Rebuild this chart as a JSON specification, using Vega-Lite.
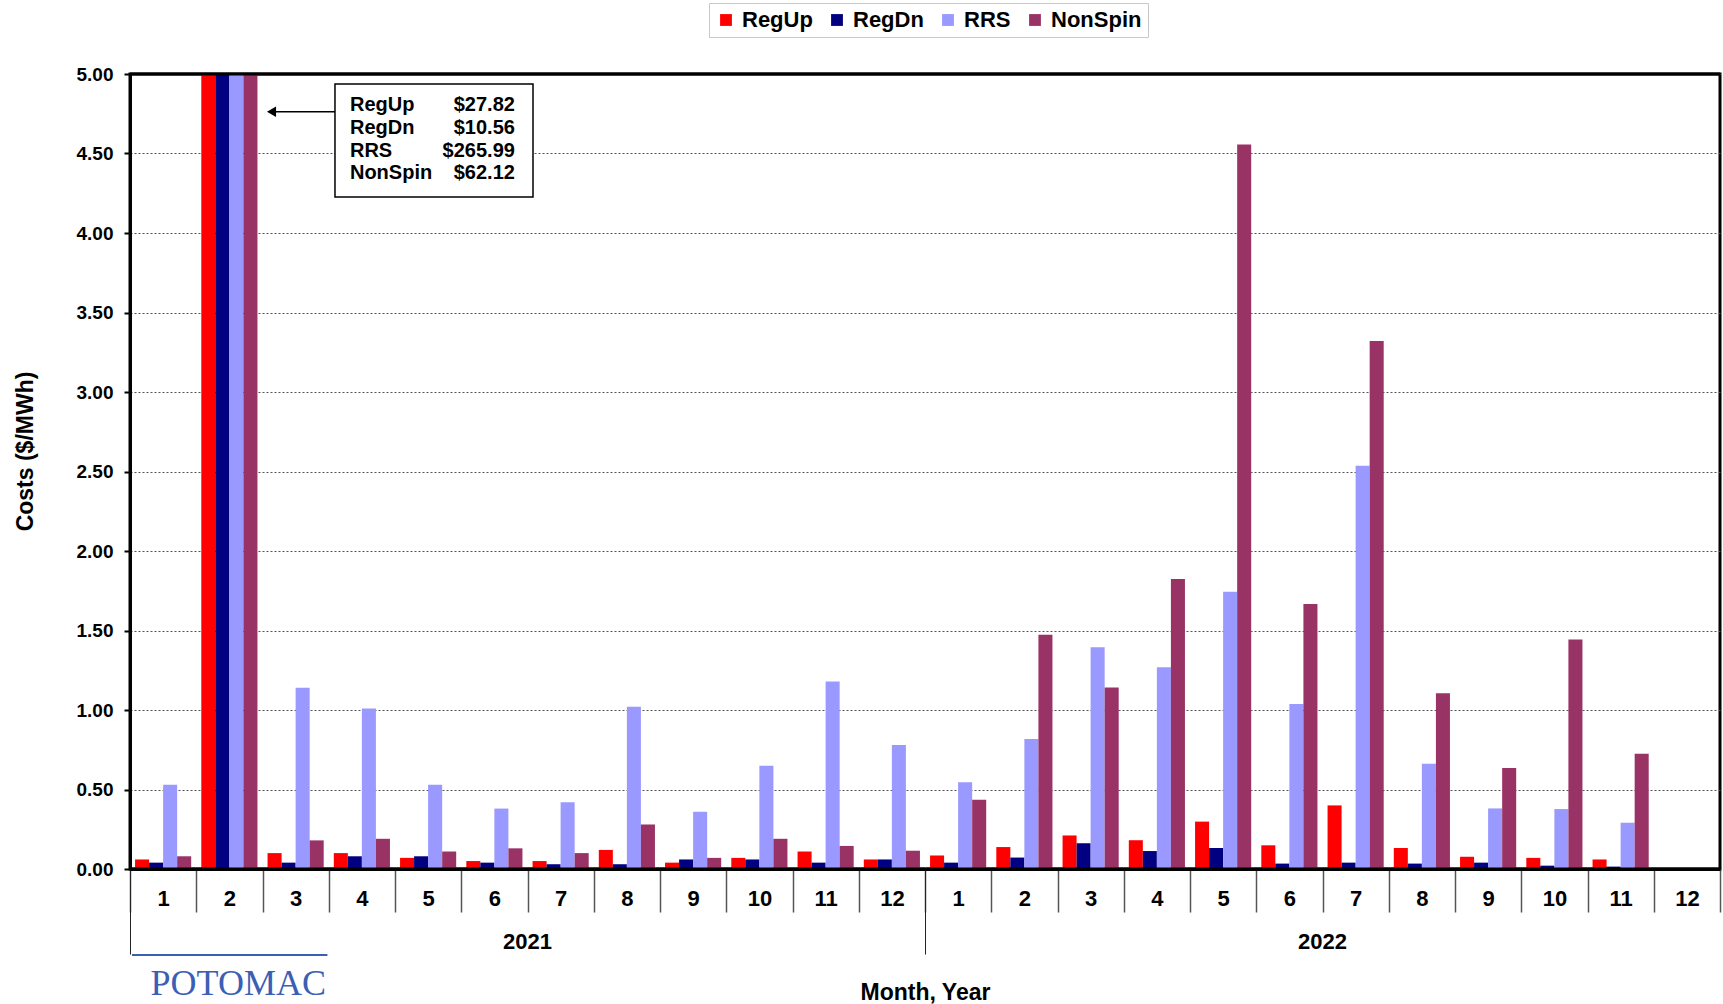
{
  "$schema": "https://vega.github.io/schema/vega-lite/v6.json",
  "width": 1590,
  "height": 795,
  "autosize": {"type": "none"},
  "padding": {"left": 130, "top": 74, "right": 3, "bottom": 135},
  "background": "white",
  "config": {
    "font": "Liberation Sans",
    "view": {"stroke": "black", "strokeWidth": 3},
    "axis": {"labelFontWeight": "bold", "titleFontWeight": "bold", "labelColor": "black", "titleColor": "black"}
  },
  "datasets": {
    "costs": [
      {"period": "2021-01", "series": "RegUp", "cost": 0.06}, {"period": "2021-01", "series": "RegDn", "cost": 0.04}, {"period": "2021-01", "series": "RRS", "cost": 0.53}, {"period": "2021-01", "series": "NonSpin", "cost": 0.08},
      {"period": "2021-02", "series": "RegUp", "cost": 27.82}, {"period": "2021-02", "series": "RegDn", "cost": 10.56}, {"period": "2021-02", "series": "RRS", "cost": 265.99}, {"period": "2021-02", "series": "NonSpin", "cost": 62.12},
      {"period": "2021-03", "series": "RegUp", "cost": 0.10}, {"period": "2021-03", "series": "RegDn", "cost": 0.04}, {"period": "2021-03", "series": "RRS", "cost": 1.14}, {"period": "2021-03", "series": "NonSpin", "cost": 0.18},
      {"period": "2021-04", "series": "RegUp", "cost": 0.10}, {"period": "2021-04", "series": "RegDn", "cost": 0.08}, {"period": "2021-04", "series": "RRS", "cost": 1.01}, {"period": "2021-04", "series": "NonSpin", "cost": 0.19},
      {"period": "2021-05", "series": "RegUp", "cost": 0.07}, {"period": "2021-05", "series": "RegDn", "cost": 0.08}, {"period": "2021-05", "series": "RRS", "cost": 0.53}, {"period": "2021-05", "series": "NonSpin", "cost": 0.11},
      {"period": "2021-06", "series": "RegUp", "cost": 0.05}, {"period": "2021-06", "series": "RegDn", "cost": 0.04}, {"period": "2021-06", "series": "RRS", "cost": 0.38}, {"period": "2021-06", "series": "NonSpin", "cost": 0.13},
      {"period": "2021-07", "series": "RegUp", "cost": 0.05}, {"period": "2021-07", "series": "RegDn", "cost": 0.03}, {"period": "2021-07", "series": "RRS", "cost": 0.42}, {"period": "2021-07", "series": "NonSpin", "cost": 0.10},
      {"period": "2021-08", "series": "RegUp", "cost": 0.12}, {"period": "2021-08", "series": "RegDn", "cost": 0.03}, {"period": "2021-08", "series": "RRS", "cost": 1.02}, {"period": "2021-08", "series": "NonSpin", "cost": 0.28},
      {"period": "2021-09", "series": "RegUp", "cost": 0.04}, {"period": "2021-09", "series": "RegDn", "cost": 0.06}, {"period": "2021-09", "series": "RRS", "cost": 0.36}, {"period": "2021-09", "series": "NonSpin", "cost": 0.07},
      {"period": "2021-10", "series": "RegUp", "cost": 0.07}, {"period": "2021-10", "series": "RegDn", "cost": 0.06}, {"period": "2021-10", "series": "RRS", "cost": 0.65}, {"period": "2021-10", "series": "NonSpin", "cost": 0.19},
      {"period": "2021-11", "series": "RegUp", "cost": 0.11}, {"period": "2021-11", "series": "RegDn", "cost": 0.04}, {"period": "2021-11", "series": "RRS", "cost": 1.18}, {"period": "2021-11", "series": "NonSpin", "cost": 0.145},
      {"period": "2021-12", "series": "RegUp", "cost": 0.06}, {"period": "2021-12", "series": "RegDn", "cost": 0.06}, {"period": "2021-12", "series": "RRS", "cost": 0.78}, {"period": "2021-12", "series": "NonSpin", "cost": 0.115},
      {"period": "2022-01", "series": "RegUp", "cost": 0.085}, {"period": "2022-01", "series": "RegDn", "cost": 0.04}, {"period": "2022-01", "series": "RRS", "cost": 0.545}, {"period": "2022-01", "series": "NonSpin", "cost": 0.436},
      {"period": "2022-02", "series": "RegUp", "cost": 0.138}, {"period": "2022-02", "series": "RegDn", "cost": 0.072}, {"period": "2022-02", "series": "RRS", "cost": 0.817}, {"period": "2022-02", "series": "NonSpin", "cost": 1.473},
      {"period": "2022-03", "series": "RegUp", "cost": 0.211}, {"period": "2022-03", "series": "RegDn", "cost": 0.162}, {"period": "2022-03", "series": "RRS", "cost": 1.395}, {"period": "2022-03", "series": "NonSpin", "cost": 1.141},
      {"period": "2022-04", "series": "RegUp", "cost": 0.181}, {"period": "2022-04", "series": "RegDn", "cost": 0.113}, {"period": "2022-04", "series": "RRS", "cost": 1.269}, {"period": "2022-04", "series": "NonSpin", "cost": 1.824},
      {"period": "2022-05", "series": "RegUp", "cost": 0.298}, {"period": "2022-05", "series": "RegDn", "cost": 0.132}, {"period": "2022-05", "series": "RRS", "cost": 1.744}, {"period": "2022-05", "series": "NonSpin", "cost": 4.557},
      {"period": "2022-06", "series": "RegUp", "cost": 0.149}, {"period": "2022-06", "series": "RegDn", "cost": 0.034}, {"period": "2022-06", "series": "RRS", "cost": 1.038}, {"period": "2022-06", "series": "NonSpin", "cost": 1.666},
      {"period": "2022-07", "series": "RegUp", "cost": 0.40}, {"period": "2022-07", "series": "RegDn", "cost": 0.04}, {"period": "2022-07", "series": "RRS", "cost": 2.536}, {"period": "2022-07", "series": "NonSpin", "cost": 3.321},
      {"period": "2022-08", "series": "RegUp", "cost": 0.132}, {"period": "2022-08", "series": "RegDn", "cost": 0.034}, {"period": "2022-08", "series": "RRS", "cost": 0.662}, {"period": "2022-08", "series": "NonSpin", "cost": 1.105},
      {"period": "2022-09", "series": "RegUp", "cost": 0.077}, {"period": "2022-09", "series": "RegDn", "cost": 0.04}, {"period": "2022-09", "series": "RRS", "cost": 0.381}, {"period": "2022-09", "series": "NonSpin", "cost": 0.635},
      {"period": "2022-10", "series": "RegUp", "cost": 0.07}, {"period": "2022-10", "series": "RegDn", "cost": 0.021}, {"period": "2022-10", "series": "RRS", "cost": 0.377}, {"period": "2022-10", "series": "NonSpin", "cost": 1.443},
      {"period": "2022-11", "series": "RegUp", "cost": 0.06}, {"period": "2022-11", "series": "RegDn", "cost": 0.015}, {"period": "2022-11", "series": "RRS", "cost": 0.291}, {"period": "2022-11", "series": "NonSpin", "cost": 0.725}
    ]
  },
  "layer": [
    {
      "data": {"name": "costs"},
      "mark": {"type": "bar", "clip": true},
      "encoding": {
        "x": {
          "field": "period", "type": "nominal",
          "scale": {"type": "band", "paddingInner": 0, "paddingOuter": 0,
            "domain": ["2021-01","2021-02","2021-03","2021-04","2021-05","2021-06","2021-07","2021-08","2021-09","2021-10","2021-11","2021-12","2022-01","2022-02","2022-03","2022-04","2022-05","2022-06","2022-07","2022-08","2022-09","2022-10","2022-11","2022-12"]},
          "axis": {"orient": "bottom", "title": null, "grid": false,
            "labelExpr": "toNumber(split(datum.value,'-')[1])",
            "labelAngle": 0, "labelFontSize": 22, "labelBaseline": "middle", "labelPadding": -14,
            "tickBand": "extent", "tickSize": 43, "tickColor": "#555", "tickWidth": 1.5,
            "domainColor": "black", "domainWidth": 3}
        },
        "xOffset": {"field": "series", "type": "nominal",
          "scale": {"domain": ["RegUp", "RegDn", "RRS", "NonSpin"], "paddingInner": 0, "paddingOuter": 0.36}},
        "y": {
          "field": "cost", "type": "quantitative",
          "scale": {"domain": [0, 5], "nice": false},
          "axis": {"title": "Costs ($/MWh)", "values": [0, 0.5, 1, 1.5, 2, 2.5, 3, 3.5, 4, 4.5, 5], "format": ".2f",
            "labelFontSize": 19, "labelPadding": 11, "tickSize": 6, "tickWidth": 2, "tickColor": "black",
            "domainColor": "black", "domainWidth": 3,
            "grid": true, "gridColor": "#555", "gridDash": [2, 2], "gridWidth": 1,
            "titleFontSize": 23, "titlePadding": 39, "titleY": 377}
        },
        "color": {
          "field": "series", "type": "nominal",
          "scale": {"domain": ["RegUp", "RegDn", "RRS", "NonSpin"], "range": ["#FF0000", "#000080", "#9999FF", "#993366"]},
          "legend": {"title": null, "orient": "none", "legendX": 579, "legendY": -71, "direction": "horizontal",
            "symbolType": "square", "symbolSize": 140, "symbolStrokeWidth": 0,
            "labelFontSize": 22, "labelFontWeight": "bold", "labelColor": "black",
            "strokeColor": "#c8c8c8", "fillColor": "white", "padding": 6, "columnPadding": 13, "labelOffset": 5}
        }
      }
    },
    {
      "data": {"values": [{"year": "2021"}, {"year": "2022"}]},
      "mark": {"type": "point", "opacity": 0},
      "encoding": {
        "x": {
          "field": "year", "type": "nominal",
          "scale": {"type": "band", "paddingInner": 0, "paddingOuter": 0},
          "axis": {"orient": "bottom", "title": "Month, Year", "domain": false, "grid": false,
            "labelAngle": 0, "labelFontSize": 22, "labelBaseline": "middle", "labelPadding": -13,
            "bandPosition": 0, "tickExtra": false, "tickSize": 85, "tickColor": "#222", "tickWidth": 1,
            "titleFontSize": 23, "titlePadding": 27}
        }
      }
    },
    {
      "data": {"values": [{}]},
      "layer": [
        {
          "mark": {"type": "rule", "stroke": "black", "strokeWidth": 3},
          "encoding": {
            "x": {"datum": 0, "type": "quantitative", "scale": {"domain": [0, 24], "nice": false, "zero": false}, "axis": null},
            "x2": {"datum": 24},
            "y": {"datum": 0, "type": "quantitative", "scale": {"domain": [0, 5], "nice": false}}
          }
        },
        {
          "mark": {"type": "rule", "stroke": "black", "strokeWidth": 3},
          "encoding": {
            "x": {"datum": 0, "type": "quantitative", "scale": {"domain": [0, 24], "nice": false, "zero": false}, "axis": null},
            "x2": {"datum": 24},
            "y": {"datum": 5, "type": "quantitative", "scale": {"domain": [0, 5], "nice": false}}
          }
        },
        {
          "mark": {"type": "rect", "fill": "white", "stroke": "black", "strokeWidth": 1.5},
          "encoding": {
            "x": {"datum": 3.094, "type": "quantitative", "scale": {"domain": [0, 24], "nice": false, "zero": false}, "axis": null},
            "x2": {"datum": 6.083},
            "y": {"datum": 4.937, "type": "quantitative", "scale": {"domain": [0, 5], "nice": false}},
            "y2": {"datum": 4.226}
          }
        },
        {
          "mark": {"type": "text", "text": ["RegUp", "RegDn", "RRS", "NonSpin"], "align": "left", "baseline": "top", "fontSize": 20, "fontWeight": "bold", "lineHeight": 22.7, "color": "black"},
          "encoding": {
            "x": {"datum": 3.32, "type": "quantitative", "scale": {"domain": [0, 24], "nice": false, "zero": false}, "axis": null},
            "y": {"datum": 4.866, "type": "quantitative", "scale": {"domain": [0, 5], "nice": false}}
          }
        },
        {
          "mark": {"type": "text", "text": ["$27.82", "$10.56", "$265.99", "$62.12"], "align": "right", "baseline": "top", "fontSize": 20, "fontWeight": "bold", "lineHeight": 22.7, "color": "black"},
          "encoding": {
            "x": {"datum": 5.81, "type": "quantitative", "scale": {"domain": [0, 24], "nice": false, "zero": false}, "axis": null},
            "y": {"datum": 4.866, "type": "quantitative", "scale": {"domain": [0, 5], "nice": false}}
          }
        },
        {
          "mark": {"type": "rule", "stroke": "black", "strokeWidth": 1.5},
          "encoding": {
            "x": {"datum": 2.14, "type": "quantitative", "scale": {"domain": [0, 24], "nice": false, "zero": false}, "axis": null},
            "x2": {"datum": 3.094},
            "y": {"datum": 4.763, "type": "quantitative", "scale": {"domain": [0, 5], "nice": false}}
          }
        },
        {
          "mark": {"type": "point", "shape": "triangle-left", "size": 110, "filled": true, "color": "black", "opacity": 1},
          "encoding": {
            "x": {"datum": 2.136, "type": "quantitative", "scale": {"domain": [0, 24], "nice": false, "zero": false}, "axis": null},
            "y": {"datum": 4.763, "type": "quantitative", "scale": {"domain": [0, 5], "nice": false}}
          }
        },
        {
          "mark": {"type": "rule", "stroke": "#3a5fb4", "strokeWidth": 2},
          "encoding": {
            "x": {"datum": 0.03, "type": "quantitative", "scale": {"domain": [0, 24], "nice": false, "zero": false}, "axis": null},
            "x2": {"datum": 2.98},
            "y": {"datum": -0.541, "type": "quantitative", "scale": {"domain": [0, 5], "nice": false}}
          }
        },
        {
          "mark": {"type": "text", "text": "POTOMAC", "font": "Liberation Serif", "fontSize": 36, "color": "#3a5fb4", "align": "left", "baseline": "alphabetic"},
          "encoding": {
            "x": {"datum": 0.31, "type": "quantitative", "scale": {"domain": [0, 24], "nice": false, "zero": false}, "axis": null},
            "y": {"datum": -0.792, "type": "quantitative", "scale": {"domain": [0, 5], "nice": false}}
          }
        }
      ]
    }
  ],
  "resolve": {"scale": {"x": "independent"}}
}
